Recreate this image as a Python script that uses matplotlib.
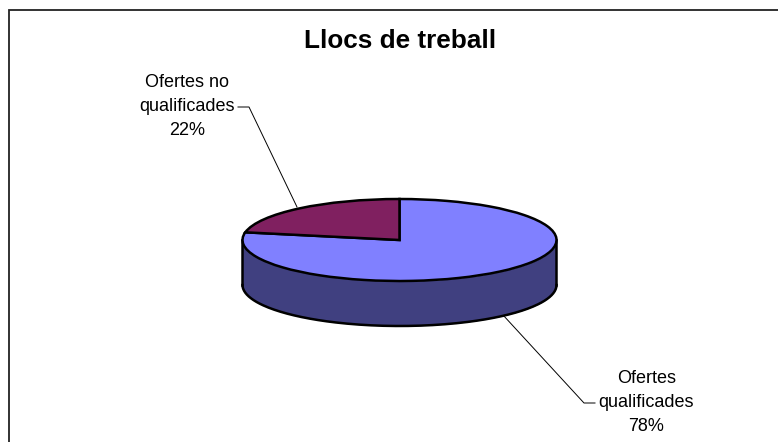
from matplotlib import pyplot as plt
import numpy as np

plt.rcParams['font.family'] = ['Liberation Sans', 'DejaVu Sans']

TITOL = 'Llocs de treball'
ETIQUETES = ['Ofertes\nqualificades\n78%', 'Ofertes no\nqualificades\n22%']
VALORS = [78, 22]
COLORS = ['#8080ff', '#802060']
COLOR_LATERAL = '#404080'

W, H = 778, 442
fig = plt.figure(figsize=(W / 100, H / 100), dpi=100)

# eixos en pixels de la imatge
fons = fig.add_axes([0, 0, 1, 1])
fons.set_xlim(0, W)
fons.set_ylim(H, 0)
fons.axis('off')

# marc: nomes dalt i a l'esquerra, la resta queda tallat
fons.plot([9, 9, W], [H, 9.5, 9.5], color='#222222', lw=1.3, solid_joinstyle='miter')

# el pastis: un cercle aixafat
cx, cy, rx, ry, gruix = 399.5, 240, 157, 41, 45
ax = fig.add_axes([(cx - rx) / W, 1 - (cy + ry) / H, 2 * rx / W, 2 * ry / H])
ax.pie(VALORS, colors=COLORS, startangle=90, counterclock=False, radius=1,
       wedgeprops={'edgecolor': 'black', 'linewidth': 1.8})
ax.set_xlim(-1, 1)
ax.set_ylim(-1, 1)
ax.set_aspect('auto')
ax.patch.set_visible(False)
ax.set_zorder(3)
for w in ax.patches:
    w.set_clip_on(False)

# paret lateral
t = np.linspace(np.pi, 2 * np.pi, 200)
xs = cx + rx * np.cos(t)
ys = cy - ry * np.sin(t)
fons.fill_between(xs, ys, ys + gruix, color=COLOR_LATERAL, lw=0, zorder=2)
fons.plot(xs, ys + gruix, color='black', lw=1.8, zorder=2)
fons.plot([xs[0], xs[0]], [ys[0], ys[0] + gruix], color='black', lw=1.8, zorder=2)
fons.plot([xs[-1], xs[-1]], [ys[-1], ys[-1] + gruix], color='black', lw=1.8, zorder=2)

# linies guia
fons.plot([297, 249, 238], [207, 107, 107], color='black', lw=0.7, zorder=1)
fons.plot([503, 584, 595], [315, 403, 403], color='black', lw=0.7, zorder=1)

fons.text(400.5, 41, TITOL, ha='center', va='center', fontsize=18.8, fontweight='bold')
fons.text(187.5, 106.5, ETIQUETES[1], ha='center', va='center', fontsize=13, linespacing=1.52)
fons.text(646.5, 402.5, ETIQUETES[0], ha='center', va='center', fontsize=13, linespacing=1.52)

fig.savefig('out.png', dpi=100)
